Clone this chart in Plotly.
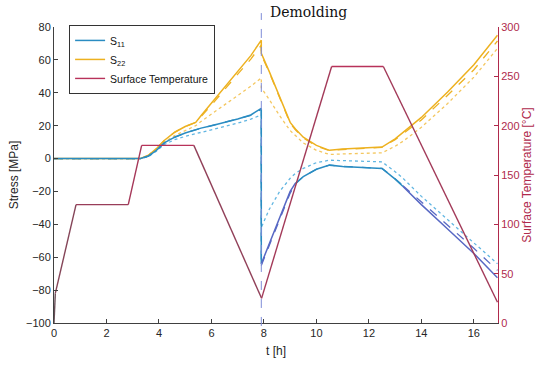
import plotly.graph_objects as go

# ---------------- data ----------------
t = [0, 3.3, 3.6, 3.9, 4.2, 4.6, 5.0, 5.4, 5.6, 6.0, 6.5, 7.0, 7.5, 7.9,
     7.9, 8.2, 8.6, 9.0, 9.2, 9.5, 10.0, 10.5, 11.0, 12.0, 12.5, 13.0, 13.3,
     14.0, 15.0, 16.0, 16.9]

s11_solid = [0, 0, 1.5, 5, 9.5, 13, 15.5, 17.5, 18.5, 20, 22, 24, 26.5, 30.5,
             -64, -52, -36, -20, -15, -11, -6.5, -4, -4.8, -5.5, -6, -12.5, -17,
             -28, -42.8, -57.7, -72.5]
s11_dash = [0, 0, 1.5, 5, 9.5, 13, 15.5, 17.5, 18.5, 20, 22, 24, 26.3, 30,
            -65, -53, -37, -21, -15.5, -11, -6.5, -4, -4.8, -5.5, -6, -12.3, -16.5,
            -26.4, -40.5, -54.6, -68]
s11_dot = [0, 0, 1.2, 4.5, 8.5, 11.5, 13.5, 15, 16, 17.5, 19.5, 21.5, 24, 26.5,
           -42, -31, -20, -12, -9, -6, -2.5, -1, -1.3, -1.7, -2, -8, -12,
           -23, -37, -51.6, -64]

s22_solid = [0, 0, 2, 6, 11, 16, 19.5, 22, 26, 33.7, 43.3, 53, 62.6, 72,
             64, 53, 37, 22, 18, 13, 8, 5, 5.8, 6.5, 7, 12, 16,
             25, 40.5, 57, 75]
s22_dash = [0, 0, 2, 6, 11, 16, 19.5, 22, 25.5, 32.5, 42, 51, 60.5, 69,
            63, 52.5, 36.5, 21.5, 17.5, 12.5, 7.5, 4.8, 5.5, 6.3, 6.8, 11.5, 15,
            23.5, 38.5, 54, 71.5]
s22_dot = [0, 0, 1.8, 5.5, 10, 14, 17, 20, 22.5, 27, 33, 38.5, 44, 49,
           43, 36, 26, 17, 14, 9.5, 5, 2.5, 2.8, 3.2, 3.5, 7.5, 10.5,
           19, 33.5, 49.5, 67]

temp_t = [0, 0.05, 0.84, 2.83, 3.34, 5.33, 7.91, 10.58, 12.55, 16.9]
temp_c = [0, 30, 120, 120, 180, 180, 25, 260, 260, 21]

demold_t = 7.9
x_ticks = [0, 2, 4, 6, 8, 10, 12, 14, 16]
y_ticks = [-100, -80, -60, -40, -20, 0, 20, 40, 60, 80]
y2_ticks = [0, 50, 100, 150, 200, 250, 300]

# ---------------- styles ----------------
TEAL = "#2A8CC2"
PURP = "#5868C4"
TEAL_L = "#62B6E2"
ORNG = "#EDB120"
ORNG_L = "#F4C760"
CRIM = "#B8325A"
AX_R = "#B02A4C"
FONT = "Liberation Sans"

fig = go.Figure()


def seg(x, y, i0, i1, color, dash="solid", width=1.4, name=None, show=False, rank=None, yaxis="y"):
    fig.add_trace(go.Scatter(
        x=x[i0:i1 + 1], y=y[i0:i1 + 1], mode="lines", yaxis=yaxis,
        line=dict(color=color, width=width, dash=dash),
        name=name if name else "seg", showlegend=show,
        legendrank=rank if rank else 1000, hoverinfo="skip"))


n = len(t) - 1
# S22
seg(t, s22_dot, 0, n, ORNG_L, "dot", 1.3)
seg(t, s22_dash, 0, n, ORNG, "dash", 1.3)
seg(t, s22_solid, 0, n, ORNG, "solid", 1.5, "S<sub>22</sub>", True, 2)
# S11
seg(t, s11_dot, 0, n, TEAL_L, "dot", 1.3)
for (a, b, c) in [(0, 14, TEAL), (14, 18, PURP), (18, 26, TEAL), (26, n, PURP)]:
    seg(t, s11_dash, a, b, c, "dash", 1.3)
for (a, b, c) in [(0, 14, TEAL), (14, 18, PURP), (18, 26, TEAL), (26, n, PURP)]:
    seg(t, s11_solid, a, b, c, "solid", 1.5,
        "S<sub>11</sub>" if a == 0 else None, a == 0, 1)


# temperature, colored by segment temperature
def tcol(T):
    f = max(0.0, min(1.0, T / 190.0))
    lo = (100, 82, 88)
    hi = (184, 50, 90)
    r, g, b = [int(lo[k] + (hi[k] - lo[k]) * f) for k in range(3)]
    return f"rgb({r},{g},{b})"


for i in range(len(temp_t) - 1):
    mean_T = 0.5 * (temp_c[i] + temp_c[i + 1])
    is_leg = (i == 4)
    seg(temp_t, temp_c, i, i + 1, CRIM if is_leg else tcol(mean_T), "solid", 1.4,
        "Surface Temperature" if is_leg else None, is_leg, 3, "y2")

# demolding marker
fig.add_shape(type="line", xref="x", yref="paper", x0=demold_t, x1=demold_t,
              y0=-0.01, y1=1.047, layer="above",
              line=dict(color="#7F8CD8", width=1, dash="dash"))
fig.add_annotation(x=demold_t, xref="x", xanchor="left", xshift=7,
                   y=1.05, yref="paper", yanchor="middle", showarrow=False,
                   text="Demolding",
                   font=dict(family="DejaVu Serif", size=14, color="#111111"))

axis_common = dict(showgrid=False, zeroline=False, ticks="inside", ticklen=4,
                   tickfont=dict(family=FONT, size=11), showline=True, linewidth=1)

fig.update_layout(
    width=550, height=366,
    margin=dict(l=54, r=52, t=27, b=43, autoexpand=False),
    paper_bgcolor="white", plot_bgcolor="white",
    font=dict(family=FONT, size=11, color="#262626"),
    xaxis=dict(range=[0, 16.92], tickvals=x_ticks, linecolor="#404040",
               tickcolor="#404040", title=dict(text="t [h]", font=dict(size=12), standoff=8),
               **axis_common),
    yaxis=dict(range=[-100, 80], tickvals=y_ticks, linecolor="#404040",
               tickcolor="#404040", title=dict(text="Stress [MPa]", font=dict(size=12), standoff=4),
               **axis_common),
    yaxis2=dict(range=[0, 300], tickvals=y2_ticks, overlaying="y", side="right",
                linecolor=AX_R, tickcolor=AX_R, color=AX_R,
                title=dict(text="Surface Temperature [°C]", font=dict(size=12, color=AX_R), standoff=4),
                **axis_common),
    legend=dict(x=0.034, y=1.007, xanchor="left", yanchor="top",
                bgcolor="white", bordercolor="#333333", borderwidth=1,
                font=dict(family=FONT, size=10.5, color="#111111"),
                tracegroupgap=0, itemwidth=30),
    showlegend=True,
)

fig.write_html("out.html", config={"displayModeBar": False},
               post_script="document.body.style.margin='0';")
